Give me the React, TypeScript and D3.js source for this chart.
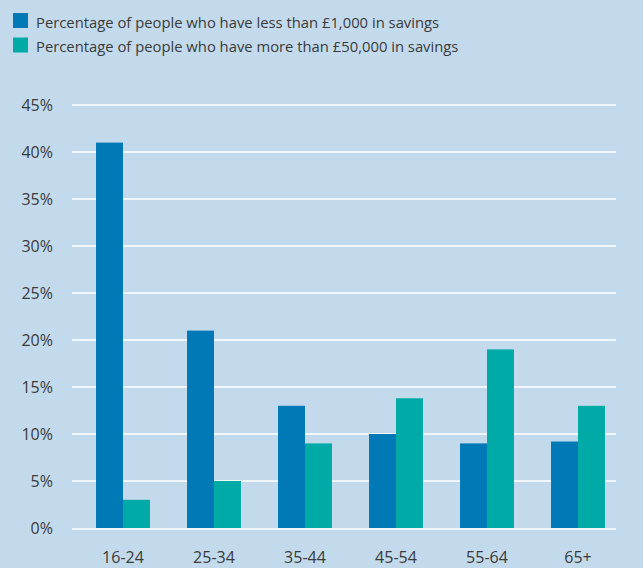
import React from "react";
import * as d3 from "d3";

const categories = ["16-24", "25-34", "35-44", "45-54", "55-64", "65+"];
const lessThan1000 = [41, 21, 13, 10, 9, 9.2];
const moreThan50000 = [3, 5, 9, 13.8, 19, 13];
const yTicks = [0, 5, 10, 15, 20, 25, 30, 35, 40, 45];
const seriesNames = [
  "Percentage of people who have less than £1,000 in savings",
  "Percentage of people who have more than £50,000 in savings",
];
const colors = ["#0079b6", "#00aba7"];

const W = 643;
const H = 568;
const FONT = "'Open Sans', 'Noto Sans', sans-serif";

export default function App() {
  const y = d3.scaleLinear().domain([0, 45]).range([528, 105]);
  const x = d3
    .scaleBand<string>()
    .domain(categories)
    .range([77.5, 623.5])
    .paddingInner(0.407)
    .paddingOuter(0.2035);
  const sub = d3
    .scaleBand<number>()
    .domain([0, 1])
    .range([0, x.bandwidth()]);
  const series = [lessThan1000, moreThan50000];

  return (
    <svg
      width={W}
      height={H}
      style={{ position: "absolute", left: 0, top: 0, display: "block" }}
    >
      <rect x={0} y={0} width={W} height={H} fill="#c3daec" />
      {/* legend */}
      {seriesNames.map((name, i) => (
        <g key={name} transform={`translate(13,${13 + i * 24.5})`}>
          <rect width={15} height={15} fill={colors[i]} />
          <text
            x={23}
            y={14.5}
            fontFamily={FONT}
            fontSize={14.8}
            fill="#3a3a3a"
          >
            {name}
          </text>
        </g>
      ))}
      {/* gridlines */}
      {yTicks.map((t) => (
        <g key={t}>
          <line
            x1={72}
            x2={616}
            y1={y(t) + (t === 0 ? 1 : 0)}
            y2={y(t) + (t === 0 ? 1 : 0)}
            stroke="#ffffff"
            strokeWidth={1.4}
          />
          <text
            x={53}
            y={y(t)}
            dy="0.36em"
            textAnchor="end"
            fontFamily={FONT}
            fontSize={16}
            fill="#3a3a3a"
          >
            {t}%
          </text>
        </g>
      ))}
      {/* bars */}
      {categories.map((c, ci) => (
        <g key={c} transform={`translate(${x(c)},0)`}>
          {series.map((s, si) => (
            <rect
              key={si}
              x={sub(si)}
              y={y(s[ci])}
              width={sub.bandwidth()}
              height={y(0) - y(s[ci])}
              fill={colors[si]}
            />
          ))}
          <text
            x={x.bandwidth() / 2}
            y={563}
            textAnchor="middle"
            fontFamily={FONT}
            fontSize={16}
            fill="#3a3a3a"
          >
            {c}
          </text>
        </g>
      ))}
    </svg>
  );
}
